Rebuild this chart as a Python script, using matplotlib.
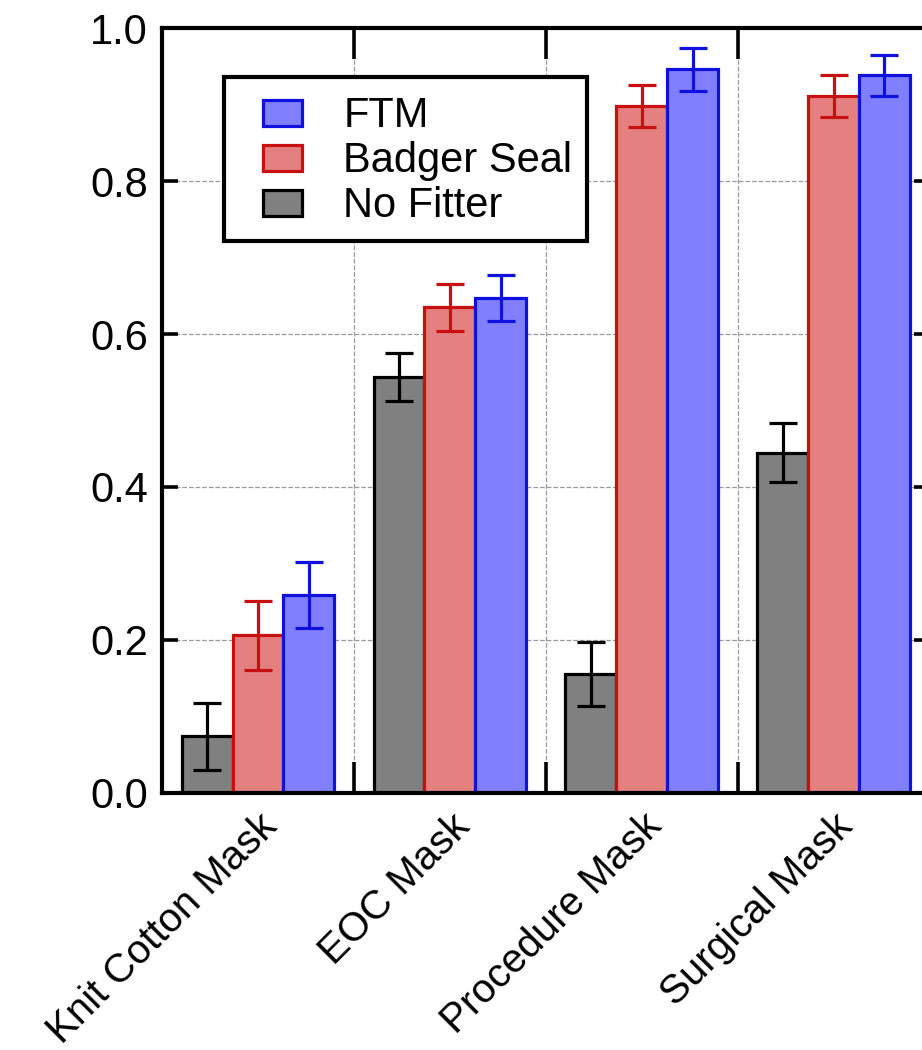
import numpy as np
import matplotlib.pyplot as plt
import matplotlib.transforms as mtransforms
from matplotlib.legend_handler import HandlerPatch
from matplotlib.patches import Rectangle
from matplotlib.ticker import FixedLocator

plt.rcParams['font.family'] = ['Liberation Sans', 'DejaVu Sans']

# data
masks = ['Knit Cotton Mask', 'EOC Mask', 'Procedure Mask', 'Surgical Mask']
no_fitter = [0.074, 0.544, 0.156, 0.445]
no_fitter_err = [0.044, 0.031, 0.042, 0.039]
badger = [0.206, 0.635, 0.898, 0.911]
badger_err = [0.045, 0.031, 0.028, 0.027]
ftm = [0.259, 0.647, 0.946, 0.938]
ftm_err = [0.043, 0.030, 0.028, 0.027]

fig = plt.figure(figsize=(9.22, 10.5), dpi=100)
ax = fig.add_axes([0.1757, 0.2448, 0.8325, 0.7285])

x = np.arange(len(masks))
w = 0.265
lw = 2.3

series = [
    (no_fitter, no_fitter_err, -w, '#808080', 'black', 'No Fitter'),
    (badger, badger_err, 0.0, '#e58080', '#c81010', 'Badger Seal'),
    (ftm, ftm_err, w, '#8080ff', '#1010e0', 'FTM'),
]
handles = []
for vals, err, off, face, edge, name in series:
    b = ax.bar(x + off, vals, width=w, color=face, edgecolor=edge,
               linewidth=lw, label=name, zorder=2)
    ax.errorbar(x + off, vals, yerr=err, fmt='none', ecolor=edge,
                elinewidth=lw, capsize=10, capthick=lw, zorder=3)
    handles.append(b.patches[0])

ax.set_xlim(-0.5, len(masks) - 0.5)
ax.set_ylim(0, 1.0)
ax.set_yticks([0, 0.2, 0.4, 0.6, 0.8, 1.0])
ax.set_yticklabels(['0.0', '0.2', '0.4', '0.6', '0.8', '1.0'])
ax.set_xticks(x)
ax.set_xticklabels(masks, rotation=45, ha='right', va='top',
                   rotation_mode='anchor')
shift = mtransforms.ScaledTranslation(-0.11, 0.02, fig.dpi_scale_trans)
for lab in ax.get_xticklabels():
    lab.set_transform(lab.get_transform() + shift)
ax.xaxis.set_minor_locator(FixedLocator(x[:-1] + 0.5))

ax.tick_params(axis='y', direction='in', length=11.5, width=2.6,
               labelsize=30, right=True, pad=10)
ax.tick_params(axis='x', which='major', length=0, labelsize=29, pad=10)
ax.tick_params(axis='x', which='minor', direction='in', length=22,
               width=2.6, top=True, bottom=True)

ax.set_axisbelow(True)
ax.grid(axis='y', which='major', color='#999999', linestyle='--',
        linewidth=0.9)
ax.grid(axis='x', which='minor', color='#999999', linestyle='--',
        linewidth=0.9)
for s in ax.spines.values():
    s.set_linewidth(3.0)


# small box on the right side of the handle area
def box(legend, orig_handle, xdescent, ydescent, width, height, fontsize):
    bw, bh = 0.92 * fontsize, 0.62 * fontsize
    return Rectangle((-xdescent + width - bw, -ydescent + (height - bh) / 2),
                     bw, bh)


leg = ax.legend(handles[::-1], ['FTM', 'Badger Seal', 'No Fitter'],
                loc='upper left', bbox_to_anchor=(0.081, 0.936),
                borderaxespad=0, fontsize=30, fancybox=False, framealpha=1,
                edgecolor='black', handlelength=1.5, handleheight=1.17,
                handletextpad=1.0, labelspacing=0.02, borderpad=0.36,
                handler_map={h: HandlerPatch(patch_func=box) for h in handles})
leg.get_frame().set_linewidth(3.0)

fig.savefig('out.png', dpi=100)
